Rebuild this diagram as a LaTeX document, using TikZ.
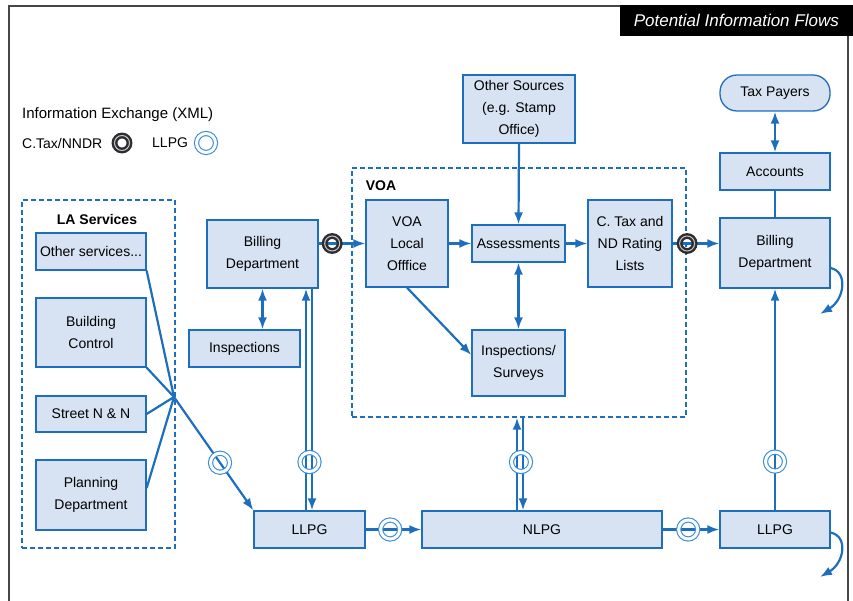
\documentclass[tikz,border=0pt]{standalone}
\usepackage{fontspec}
\setmainfont{Liberation Sans}
\usepackage{xcolor}
\usetikzlibrary{arrows.meta,calc}
\definecolor{lineblue}{RGB}{30,110,190}
\definecolor{boxfill}{RGB}{215,226,242}
\definecolor{ringdark}{RGB}{45,45,50}
\definecolor{ringblue}{RGB}{55,140,220}
\definecolor{frame}{RGB}{70,70,70}

\begin{document}
\begin{tikzpicture}[x=1pt,y=-1pt,>={Latex[length=12pt,width=9pt]},font=\fontsize{14}{22}\selectfont]
\tikzset{box/.style={draw=lineblue,line width=1.3pt,fill=boxfill,align=center,inner sep=2pt},
 grp/.style={draw=lineblue,line width=1.4pt,dash pattern=on 5pt off 3pt},
 flow/.style={draw=lineblue,line width=2.2pt},
 ctring/.style={circle,draw=ringdark,line width=2.4pt,double=gray!45,double distance=1pt,minimum size=15pt,inner sep=0pt},
 llring/.style={circle,draw=ringblue,line width=1.1pt,double=white,double distance=3pt,minimum size=19pt,inner sep=0pt},
 lbl/.style={inner sep=0pt,font=\fontsize{14}{22}\selectfont\bfseries}}
\useasboundingbox (0,0) rectangle (853,601);
% frame and title
\draw[frame,line width=2pt] (620,6) -- (9,6) -- (9,601);
\draw[frame,line width=2pt] (848,36) -- (848,601);
\node[fill=black,minimum width=233pt,minimum height=31pt,anchor=north east,inner sep=0pt] (title) at (853,5)
 {\fontsize{17}{20}\selectfont\itshape\color{white}Potential Information Flows};
% legend
\node[anchor=west,inner sep=0pt,font=\fontsize{15}{18}\selectfont] (lgtitle) at (22,115) {Information Exchange (XML)};
\node[anchor=west,inner sep=0pt] (lgct) at (22,143) {C.Tax/NNDR};
\node[ctring] (lgctring) at (122,143) {};
\node[anchor=west,inner sep=0pt] (lgll) at (152,143) {LLPG};
\node[llring] (lgllring) at (206,143) {};
% groups
\node[grp,minimum width=153pt,minimum height=348pt] (lasvc) at (98.5,374) {};
\node[lbl] (lasvclbl) at (97,219) {LA Services};
\node[grp,minimum width=334pt,minimum height=249pt] (voa) at (519,292.5) {};
\node[lbl] (voalbl) at (381,186) {VOA};
% LA services
\node[box,minimum width=110pt,minimum height=37pt] (oth) at (91,251.5) {Other services...};
\node[box,minimum width=110pt,minimum height=69pt] (bc) at (91,332.5) {Building\\Control};
\node[box,minimum width=110pt,minimum height=36pt] (snn) at (91,414) {Street N \& N};
\node[box,minimum width=110pt,minimum height=70pt] (plan) at (91,495) {Planning\\Department};
% billing authority
\node[box,minimum width=111pt,minimum height=68pt] (bill) at (262.5,254) {Billing\\Department};
\node[box,minimum width=111pt,minimum height=37pt] (insp) at (244.5,348.5) {Inspections};
% VOA
\node[box,minimum width=82pt,minimum height=87pt] (voalo) at (407,243.5) {VOA\\Local\\Offfice};
\node[box,minimum width=93pt,minimum height=37pt] (assess) at (518.5,243.5) {Assessments};
\node[box,minimum width=84pt,minimum height=87pt] (ctax) at (630,243.5) {C. Tax and\\ND Rating\\Lists};
\node[box,minimum width=93pt,minimum height=66pt] (survey) at (518.5,363) {Inspections/\\Surveys};
\node[box,minimum width=112pt,minimum height=68pt] (othsrc) at (519,109) {Other Sources\\(e.g. Stamp\\Office)};
% right column
\node[box,rounded corners=17pt,minimum width=110pt,minimum height=36pt] (taxp) at (775,93) {Tax Payers};
\node[box,minimum width=110pt,minimum height=37pt] (acct) at (775,171.5) {Accounts};
\node[box,minimum width=110pt,minimum height=70pt] (billr) at (775,253) {Billing\\Department};
% gazetteers
\node[box,minimum width=111pt,minimum height=37pt] (llpgl) at (309.5,529.5) {LLPG};
\node[box,minimum width=240pt,minimum height=37pt] (nlpg) at (542,529.5) {NLPG};
\node[box,minimum width=110pt,minimum height=37pt] (llpgr) at (775,529.5) {LLPG};
\coordinate (hub) at (174,397);
\coordinate (outbill) at (820,314);
\coordinate (outllpg) at (820,577);

% LA services to LLPG
\draw[flow] (oth.south east) -- (hub);
\draw[flow] (bc.south east) -- (hub);
\draw[flow] (snn.east) -- (hub);
\draw[flow] ([yshift=7pt]plan.east) -- (hub);
\draw[flow,->] (hub) -- node[llring,pos=0.58] (rhub) {} (llpgl.north west);
% billing dept
\draw[flow,<->] (bill.south) -- (bill.south |- insp.north);
\draw[flow,->] ([xshift=-3.5pt]llpgl.north) -- ([xshift=-3.5pt]llpgl.north |- bill.south);
\draw[flow,->] ([xshift=2.5pt]llpgl.north |- bill.south) -- ([xshift=2.5pt]llpgl.north);
\node[llring] (rbill) at (309.5,462) {};
\draw[flow,->] (bill.east |- voalo.west) -- node[ctring,pos=0.29] (rbv) {} (voalo.west);
% inside VOA
\draw[flow,->] (voalo.east) -- (assess.west);
\draw[flow,->] (assess.east) -- (ctax.west);
\draw[flow,->] (othsrc.south) -- (assess.north);
\draw[flow,<->] (assess.south) -- (survey.north);
\draw[flow,->] (voalo.south) -- ([yshift=8pt]survey.west);
\draw[flow,->] (ctax.east) -- node[ctring,pos=0.31] (rcb) {} (ctax.east -| billr.west);
% NLPG and VOA
\draw[flow,->] ([xshift=-2pt]voa.south |- nlpg.north) -- ([xshift=-2pt]voa.south);
\draw[flow,->] ([xshift=4pt]voa.south) -- ([xshift=4pt]voa.south |- nlpg.north);
\node[llring] (rnlpg) at (521,462) {};
% right side
\draw[flow,<->] (taxp.south) -- (acct.north);
\draw[flow] (acct.south) -- (billr.north);
\draw[flow,->] (llpgr.north) -- node[llring,pos=0.22] (rllr) {} (billr.south);
\draw[flow,->] ([yshift=-15pt]billr.east) .. controls +(18,4) and +(24,-14) .. (outbill);
\draw[flow,->] ([yshift=-3pt]llpgr.east) .. controls +(18,4) and +(24,-14) .. (outllpg);
% bottom row
\draw[flow,->] (llpgl.east) -- node[llring,pos=0.44] (rln) {} (nlpg.west);
\draw[flow,->] (nlpg.east) -- node[llring,pos=0.45] (rnl) {} (llpgr.west);
\end{tikzpicture}
\end{document}
